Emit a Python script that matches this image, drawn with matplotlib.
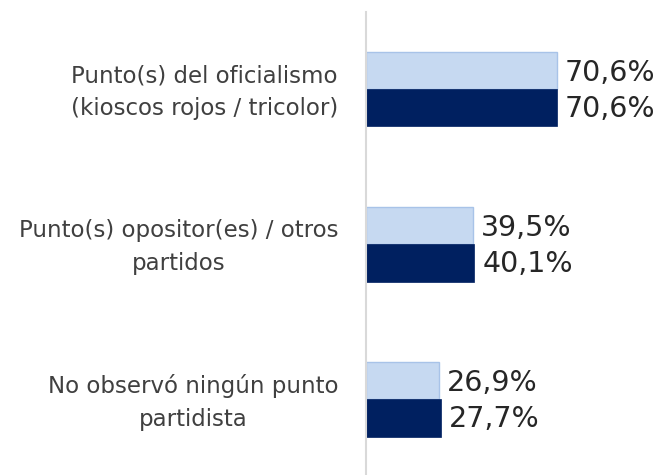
import matplotlib
matplotlib.use("Agg")
import matplotlib.pyplot as plt
import matplotlib.transforms as mtransforms
import numpy as np

categories = ["Punto(s) del oficialismo\n(kioscos rojos / tricolor)",
              "Punto(s) opositor(es) / otros\npartidos",
              "No observó ningún punto\npartidista"]
series_a = [70.6, 39.5, 26.9]
series_b = [70.6, 40.1, 27.7]
labels_a = ["70,6%", "39,5%", "26,9%"]
labels_b = ["70,6%", "40,1%", "27,7%"]

plt.rcParams['font.family'] = ['DejaVu Sans']

W, H = 657, 475
fig = plt.figure(figsize=(W / 100, H / 100), dpi=100)
ax = fig.add_axes([366 / W, 0, (636 - 366) / W, 1 - 12 / H])

y = np.arange(len(categories))
h = 0.24
light = "#C6D9F1"
dark = "#002060"
ax.barh(y - h / 2, series_a, height=h, color=light, edgecolor="#A8C3E8", linewidth=1.0)
ax.barh(y + h / 2, series_b, height=h, color=dark, edgecolor=dark, linewidth=0.5)

for yi, va_, vb_, la, lb in zip(y, series_a, series_b, labels_a, labels_b):
    ax.annotate(la, (va_, yi - h / 2), xytext=(6.0, -1.5), textcoords="offset points",
                va="center", ha="left", fontsize=20.5, color="#262626")
    ax.annotate(lb, (vb_, yi + h / 2), xytext=(6.0, -0.5), textcoords="offset points",
                va="center", ha="left", fontsize=20.5, color="#262626")

ax.set_xlim(0, 100)
ax.set_ylim(2.487, -0.498)
ax.set_yticks(y)
ax.set_yticklabels(categories, fontsize=16.5, color="#404040", multialignment="center",
                   linespacing=1.55)
ax.tick_params(axis="y", length=0, pad=20)
shift = mtransforms.ScaledTranslation(0, 4.5 / 100, fig.dpi_scale_trans)
for lbl in ax.get_yticklabels():
    lbl.set_transform(lbl.get_transform() + shift)
ax.set_xticks([])
for s in ["top", "right", "bottom"]:
    ax.spines[s].set_visible(False)
ax.spines["left"].set_color("#D9D9D9")
ax.spines["left"].set_linewidth(1.5)

fig.savefig("out.png", dpi=100)
